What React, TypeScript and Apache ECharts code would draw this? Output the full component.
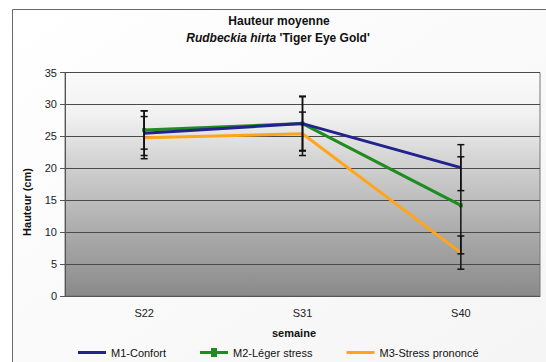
import React, { useEffect, useRef } from "react";
import * as echarts from "echarts";

const categories = ["S22", "S31", "S40"];
const m1Values = [25.5, 27.0, 20.1];
const m2Values = [26.0, 27.0, 14.2];
const m3Values = [24.8, 25.4, 6.8];
const m1Err = [3.5, 4.3, 3.6];
const m2Err = [3.0, 4.2, 7.6];
const m3Err = [3.3, 3.4, 2.6];
const seriesNames = ["M1-Confort", "M2-Léger stress", "M3-Stress prononcé"];
const seriesColors = ["#23238e", "#1e8c1e", "#ffa51a"];

export default function App() {
  const ref = useRef<HTMLDivElement>(null);
  useEffect(() => {
    if (!ref.current) return;
    const chart = echarts.init(ref.current, null, { renderer: "svg" });
    const values = [m1Values, m2Values, m3Values];
    const errs = [m1Err, m2Err, m3Err];
    const errData: number[][] = [];
    values.forEach((arr, s) =>
      arr.forEach((v, i) => errData.push([i, v - errs[s][i], v + errs[s][i]]))
    );
    const font = "Liberation Sans, Arial, sans-serif";
    const lineIcon = "path://M0,0h28v3h-28z";
    const markIcon = "path://M0,3h11v-3h6v3h11v3h-11v3h-6v-3h-11z";
    chart.setOption({
      animation: false,
      backgroundColor: "#ffffff",
      textStyle: { fontFamily: font },
      graphic: [
        {
          type: "rect",
          z: -10,
          shape: { x: 12.5, y: 9.5, width: 560, height: 380 },
          style: {
            fill: new echarts.graphic.LinearGradient(0, 0, 1, 1, [
              { offset: 0, color: "#ffffff" },
              { offset: 1, color: "#f4f4f4" },
            ]),
            stroke: "#6a6a6a",
            lineWidth: 1,
          },
        },
        {
          type: "text",
          x: 279,
          y: 21,
          style: {
            text: "Hauteur moyenne",
            font: `bold 12px ${font}`,
            fill: "#111",
            align: "center",
            verticalAlign: "middle",
          },
        },
        {
          type: "text",
          x: 278,
          y: 38,
          style: {
            text: "{i|Rudbeckia hirta} {n|'Tiger Eye Gold'}",
            align: "center",
            verticalAlign: "middle",
            rich: {
              i: { font: `italic bold 12px ${font}`, fill: "#111" },
              n: { font: `bold 12px ${font}`, fill: "#111" },
            },
          },
        },
        {
          type: "text",
          x: 27,
          y: 202,
          rotation: Math.PI / 2,
          style: {
            text: "Hauteur (cm)",
            font: `bold 11px ${font}`,
            fill: "#111",
            align: "center",
            verticalAlign: "middle",
          },
        },
        {
          type: "text",
          x: 294,
          y: 333,
          style: {
            text: "semaine",
            font: `bold 11px ${font}`,
            fill: "#111",
            align: "center",
            verticalAlign: "middle",
          },
        },
      ],
      grid: {
        left: 65,
        right: 6,
        top: 72.5,
        bottom: 66,
        show: true,
        borderColor: "#777",
        borderWidth: 1,
        backgroundColor: new echarts.graphic.LinearGradient(0, 0, 0, 1, [
          { offset: 0, color: "#fbfbfb" },
          { offset: 0.2, color: "#f0f0f0" },
          { offset: 0.4, color: "#d2d2d2" },
          { offset: 0.7, color: "#adadad" },
          { offset: 1, color: "#8a8a8a" },
        ]),
      },
      legend: {
        top: 342,
        left: 73,
        itemGap: 34,
        itemWidth: 28,
        itemHeight: 9,
        textStyle: { fontSize: 11, color: "#111", fontFamily: font },
        data: seriesNames.map((n, s) => ({
          name: n,
          icon: s === 1 ? markIcon : lineIcon,
          itemStyle: { color: seriesColors[s] },
        })),
      },
      xAxis: {
        type: "category",
        data: categories,
        boundaryGap: true,
        axisLine: { lineStyle: { color: "#555" } },
        axisTick: { show: false },
        axisLabel: { fontSize: 11, color: "#222", margin: 11 },
      },
      yAxis: {
        type: "value",
        min: 0,
        max: 35,
        interval: 5,
        axisLine: { show: true, lineStyle: { color: "#555" } },
        axisTick: { show: true, length: 5, lineStyle: { color: "#555" } },
        axisLabel: { fontSize: 11, color: "#222", margin: 8 },
        splitLine: { lineStyle: { color: "#4a4a4a", width: 1 } },
      },
      series: [
        ...values.map((arr, s) => ({
          type: "line",
          name: seriesNames[s],
          data: arr,
          symbol: s === 1 ? "rect" : "none",
          symbolSize: 4,
          lineStyle: { color: seriesColors[s], width: 3 },
          itemStyle: { color: seriesColors[s] },
          z: 3 - s + 2,
        })),
        {
          type: "custom",
          name: "err",
          z: 10,
          data: errData,
          renderItem: (params: any, api: any) => {
            const x = api.value(0);
            const lo = api.coord([x, api.value(1)]);
            const hi = api.coord([x, api.value(2)]);
            const hw = 3.5;
            const style = { stroke: "#111", lineWidth: 1.5 };
            return {
              type: "group",
              children: [
                { type: "line", shape: { x1: lo[0], y1: lo[1], x2: hi[0], y2: hi[1] }, style },
                { type: "line", shape: { x1: lo[0] - hw, y1: lo[1], x2: lo[0] + hw, y2: lo[1] }, style },
                { type: "line", shape: { x1: hi[0] - hw, y1: hi[1], x2: hi[0] + hw, y2: hi[1] }, style },
              ],
            };
          },
        },
      ],
    });
    return () => chart.dispose();
  }, []);
  return (
    <div
      ref={ref}
      style={{ position: "fixed", left: 0, top: 0, width: 546, height: 362 }}
    />
  );
}
